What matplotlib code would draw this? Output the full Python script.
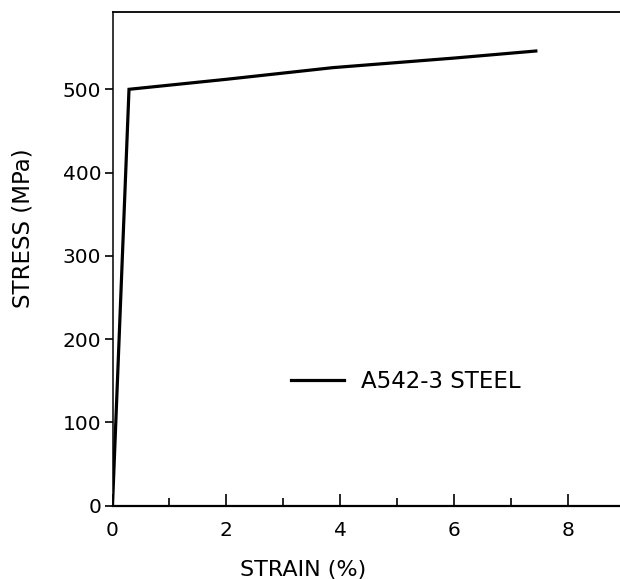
import matplotlib
matplotlib.use("Agg")
import matplotlib.pyplot as plt
from matplotlib.ticker import MultipleLocator

# Data
strain = [0.0, 0.29, 2.0, 3.87, 6.0, 7.44]
stress = [0.0, 500.0, 512.0, 526.0, 537.5, 546.0]
series_label = "A542-3 STEEL"
x_ticks = [0, 2, 4, 6, 8]
y_ticks = [0, 100, 200, 300, 400, 500]

plt.rcParams['font.family'] = ['DejaVu Sans']

fig = plt.figure(figsize=(6.2, 5.79), dpi=100)
ax = fig.add_axes([112.5/620, 1-505.5/579, 9.0*56.9/620, 592.5*0.8324/579])

ax.plot(strain, stress, color='black', lw=2.3, solid_joinstyle='miter',
        label=series_label)

ax.set_xlim(0, 9.0)
ax.set_ylim(0, 592.5)

ax.set_xticks(x_ticks)
ax.set_yticks(y_ticks)
ax.xaxis.set_minor_locator(MultipleLocator(1))

ax.tick_params(axis='x', which='major', direction='in', length=9, width=1.2,
               labelsize=14.5, pad=11, top=False)
ax.tick_params(axis='x', which='minor', direction='in', length=6, width=1.2,
               top=False)
ax.tick_params(axis='y', which='major', direction='out', length=6, width=1.2,
               labelsize=14.5, pad=2, right=False)

ax.spines['right'].set_visible(False)
ax.spines['left'].set_linewidth(1.1)
ax.spines['top'].set_linewidth(1.3)
ax.spines['bottom'].set_linewidth(1.6)

ax.set_xlabel("STRAIN (%)", fontsize=16)
ax.xaxis.set_label_coords((303-112.5)/(9.0*56.9), -(570-505.5)/(592.5*0.8324))
ax.set_ylabel("STRESS (MPa)", fontsize=16.5)
ax.yaxis.set_label_coords(-(112.5-23)/(9.0*56.9), (505.5-228)/(592.5*0.8324))
ax.xaxis.label.set_va('center')
ax.yaxis.label.set_va('center')

leg = ax.legend(loc='center left', bbox_to_anchor=(291/620, 1-382/579),
                bbox_transform=fig.transFigure, frameon=False,
                fontsize=16.5, handlelength=2.3, handletextpad=0.75,
                borderpad=0, borderaxespad=0)
for h in leg.get_lines():
    h.set_linewidth(2.3)

fig.savefig("out.png", dpi=100)
